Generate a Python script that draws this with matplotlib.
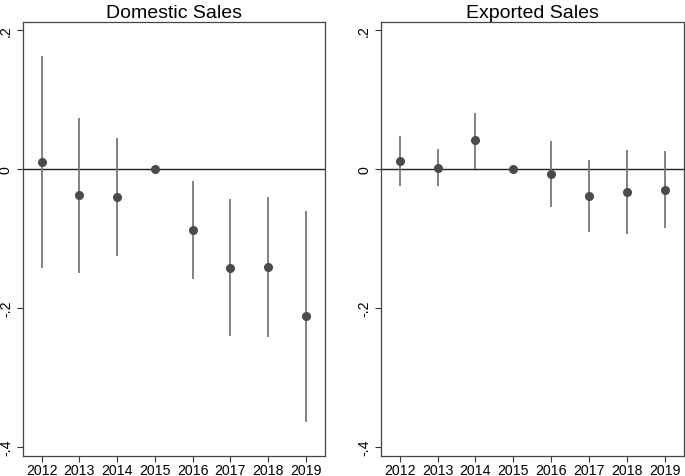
import matplotlib.pyplot as plt

plt.rcParams['font.family'] = ['Liberation Sans', 'DejaVu Sans']

years = [2012, 2013, 2014, 2015, 2016, 2017, 2018, 2019]

# Domestic sales: point estimate and 95% CI bounds
dom_coef = [0.010, -0.038, -0.040, 0.0, -0.088, -0.142, -0.141, -0.212]
dom_hi = [0.163, 0.074, 0.045, 0.0, -0.018, -0.043, -0.040, -0.060]
dom_lo = [-0.143, -0.150, -0.125, 0.0, -0.159, -0.241, -0.242, -0.364]

# Exported sales
exp_coef = [0.012, 0.002, 0.041, 0.0, -0.007, -0.039, -0.033, -0.030]
exp_hi = [0.048, 0.029, 0.081, 0.0, 0.040, 0.013, 0.027, 0.026]
exp_lo = [-0.025, -0.025, 0.000, 0.0, -0.055, -0.090, -0.093, -0.085]

yticks = [-0.4, -0.2, 0, 0.2]
ytick_labels = ['-.4', '-.2', '0', '.2']

fig = plt.figure(figsize=(6.85, 4.77), dpi=100)
ax1 = fig.add_axes([0.0331, 0.0426, 0.4413, 0.9086])
ax2 = fig.add_axes([0.5558, 0.0426, 0.4422, 0.9086])

for ax, coef, lo, hi, title in [(ax1, dom_coef, dom_lo, dom_hi, 'Domestic Sales'),
                                (ax2, exp_coef, exp_lo, exp_hi, 'Exported Sales')]:
    ax.axhline(0, color='#222222', lw=1.0, zorder=1)
    ax.vlines(years, lo, hi, color='#777777', lw=1.3, zorder=2)
    ax.plot(years, coef, 'o', color='#4a4a4a', markersize=5.5, zorder=3)
    ax.set_xlim(2011.5, 2019.5)
    ax.set_ylim(-0.4125, 0.211)
    ax.set_xticks(years)
    ax.set_xticklabels([str(y) for y in years], fontsize=10.2)
    ax.set_yticks(yticks)
    ax.set_yticklabels(ytick_labels, rotation=90, va='center', fontsize=10.2)
    ax.tick_params(direction='out', length=4, width=0.8, color='#333333')
    ax.tick_params(axis='x', pad=1)
    ax.tick_params(axis='y', pad=3)
    for s in ax.spines.values():
        s.set_color('#444444')
        s.set_linewidth(0.9)
    ax.set_title(title, fontsize=14, pad=4)

fig.savefig('out.png', dpi=100)
